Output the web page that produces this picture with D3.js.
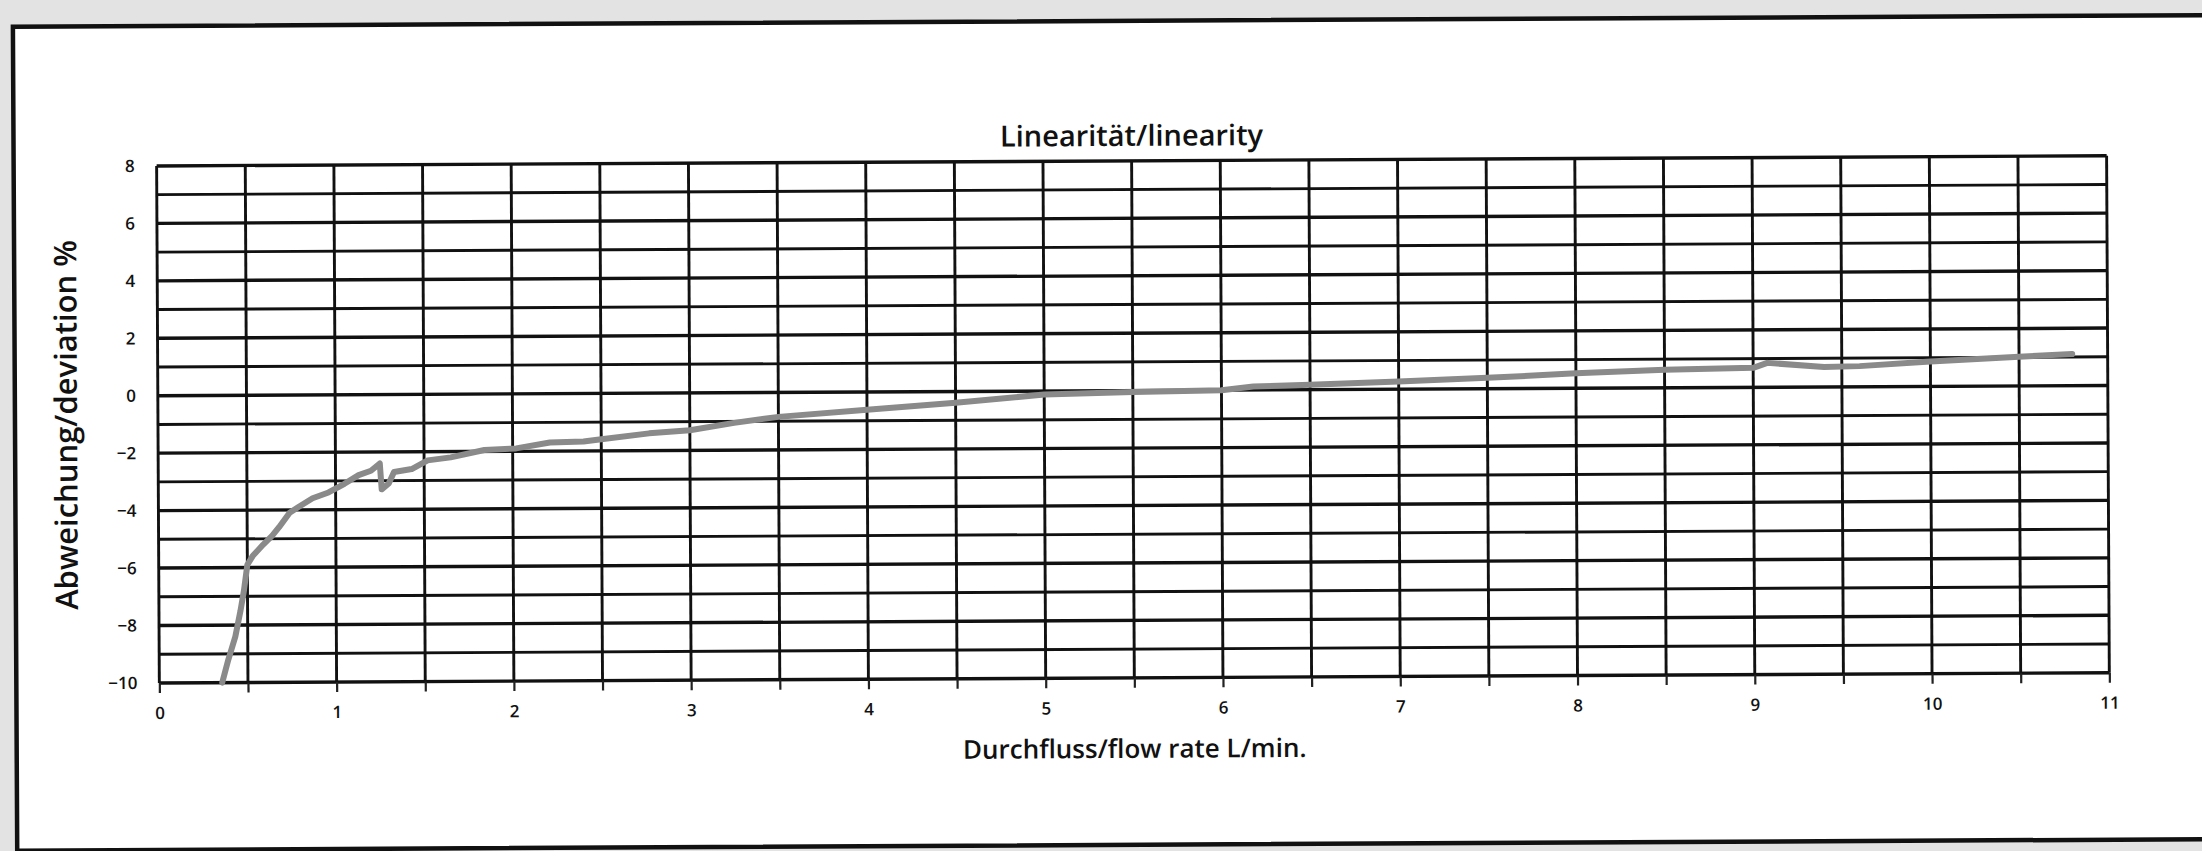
<!DOCTYPE html>
<html>
<head>
<meta charset="utf-8">
<script src="https://cdn.jsdelivr.net/npm/d3@7"></script>
<style>
	body { margin: 0; background: #e3e3e3; }
	svg { display: block; }
	.tick-label { font-family: 'Open Sans', sans-serif; font-weight: 600; font-size: 17px; fill: #111; }
	.title { font-family: 'Open Sans', sans-serif; font-weight: 600; fill: #111; }
</style>
</head>
<body>
<svg id="chart" width="2202" height="851"></svg>
<script>
const w = 2202;
const h = 851;

// flow rate in L/min and deviation in %
const flowRate = [0.355, 0.39, 0.43, 0.46, 0.48, 0.50, 0.53, 0.59, 0.64, 0.68, 0.74, 0.79, 0.87, 0.96, 1.05, 1.13, 1.20, 1.25, 1.26, 1.30, 1.33, 1.43, 1.52, 1.65, 1.84, 2.02, 2.21, 2.40, 2.50, 2.77, 3.0, 3.25, 3.5, 4.0, 4.5, 5.0, 5.5, 6.0, 6.18, 6.5, 7.0, 7.5, 8.0, 8.5, 9.0, 9.08, 9.4, 9.6, 10.0, 10.5, 10.8];
const deviation = [-10, -9.2, -8.4, -7.5, -6.8, -5.9, -5.6, -5.2, -4.9, -4.6, -4.1, -3.9, -3.6, -3.4, -3.1, -2.8, -2.65, -2.4, -3.3, -3.1, -2.7, -2.6, -2.3, -2.2, -1.95, -1.9, -1.7, -1.67, -1.6, -1.4, -1.3, -1.05, -0.85, -0.62, -0.39, -0.12, -0.05, 0.0, 0.12, 0.17, 0.27, 0.38, 0.52, 0.63, 0.68, 0.85, 0.7, 0.72, 0.87, 1.02, 1.1];

const xTickLabels = [0, 1, 2, 3, 4, 5, 6, 7, 8, 9, 10, 11];
const yTickLabels = [8, 6, 4, 2, 0, -2, -4, -6, -8, -10];
const xGrid = [0, 0.5, 1, 1.5, 2, 2.5, 3, 3.5, 4, 4.5, 5, 5.5, 6, 6.5, 7, 7.5, 8, 8.5, 9, 9.5, 10, 10.5, 11];
const yGrid = [8, 7, 6, 5, 4, 3, 2, 1, 0, -1, -2, -3, -4, -5, -6, -7, -8, -9, -10];

const titleText = 'Linearität/linearity';
const xTitle = 'Durchfluss/flow rate L/min.';
const yTitle = 'Abweichung/deviation %';

const plot = { left: 158, right: 2108, top: 161, bottom: 678 };

const xScale = d3.scaleLinear()
	.domain([0, 11])
	.range([plot.left, plot.right]);

const yScale = d3.scaleLinear()
	.domain([-10, 8])
	.range([plot.bottom, plot.top]);

// the scanned sheet sits a little crooked
const svg = d3.select('#chart')
	.append('g')
	.attr('transform', 'rotate(-0.3, 1101, 425)');

// white sheet with the thick frame, its right side runs off the page
svg.append('rect')
	.attr('x', 15)
	.attr('y', 21)
	.attr('width', w + 40)
	.attr('height', 824)
	.attr('fill', '#fff')
	.attr('stroke', '#111')
	.attr('stroke-width', 4.5);

// grid
svg.append('g')
	.selectAll('line')
	.data(yGrid)
	.enter()
	.append('line')
	.attr('x1', plot.left)
	.attr('x2', plot.right)
	.attr('y1', (d) => yScale(d))
	.attr('y2', (d) => yScale(d))
	.attr('stroke', '#111')
	.attr('stroke-width', (d) => d % 2 === 0 ? 3.4 : 2.9);

svg.append('g')
	.selectAll('line')
	.data(xGrid)
	.enter()
	.append('line')
	.attr('x1', (d) => xScale(d))
	.attr('x2', (d) => xScale(d))
	.attr('y1', plot.top)
	.attr('y2', plot.bottom)
	.attr('stroke', '#111')
	.attr('stroke-width', 2.9);

// axes
const xAxis = d3.axisBottom(xScale)
	.tickValues(xGrid)
	.tickSize(10)
	.tickSizeOuter(0)
	.tickPadding(14)
	.tickFormat((d) => xTickLabels.includes(d) ? d : '');

svg.append('g')
	.attr('id', 'x-axis')
	.attr('transform', 'translate(0, ' + plot.bottom + ')')
	.call(xAxis)
	.call((g) => g.select('.domain').remove())
	.call((g) => g.selectAll('.tick line').attr('stroke', '#222').attr('stroke-width', 2.2))
	.call((g) => g.selectAll('.tick text').attr('class', 'tick-label').attr('font-size', null).attr('font-family', null));

const yAxis = d3.axisLeft(yScale)
	.tickValues(yTickLabels)
	.tickSize(0)
	.tickPadding(22);

svg.append('g')
	.attr('id', 'y-axis')
	.attr('transform', 'translate(' + plot.left + ', 0)')
	.call(yAxis)
	.call((g) => g.select('.domain').remove())
	.call((g) => g.selectAll('.tick text').attr('class', 'tick-label').attr('font-size', null).attr('font-family', null));

// measured curve
const points = flowRate.map((d, i) => [d, deviation[i]]);

svg.append('path')
	.datum(points)
	.attr('fill', 'none')
	.attr('stroke', '#8a8a8a')
	.attr('stroke-width', 6)
	.attr('stroke-linejoin', 'round')
	.attr('stroke-linecap', 'round')
	.attr('d', d3.line()
		.x((d) => xScale(d[0]))
		.y((d) => yScale(d[1]))
	);

// titles
svg.append('text')
	.attr('class', 'title')
	.attr('x', (plot.left + plot.right) / 2)
	.attr('y', 146)
	.attr('text-anchor', 'middle')
	.attr('font-size', 29)
	.text(titleText);

svg.append('text')
	.attr('class', 'title')
	.attr('x', (plot.left + plot.right) / 2)
	.attr('y', 758)
	.attr('text-anchor', 'middle')
	.attr('font-size', 26)
	.text(xTitle);

svg.append('text')
	.attr('class', 'title')
	.attr('transform', 'translate(77, ' + (plot.top + plot.bottom) / 2 + ') rotate(-90)')
	.attr('text-anchor', 'middle')
	.attr('font-size', 31)
	.text(yTitle);
</script>
</body>
</html>
